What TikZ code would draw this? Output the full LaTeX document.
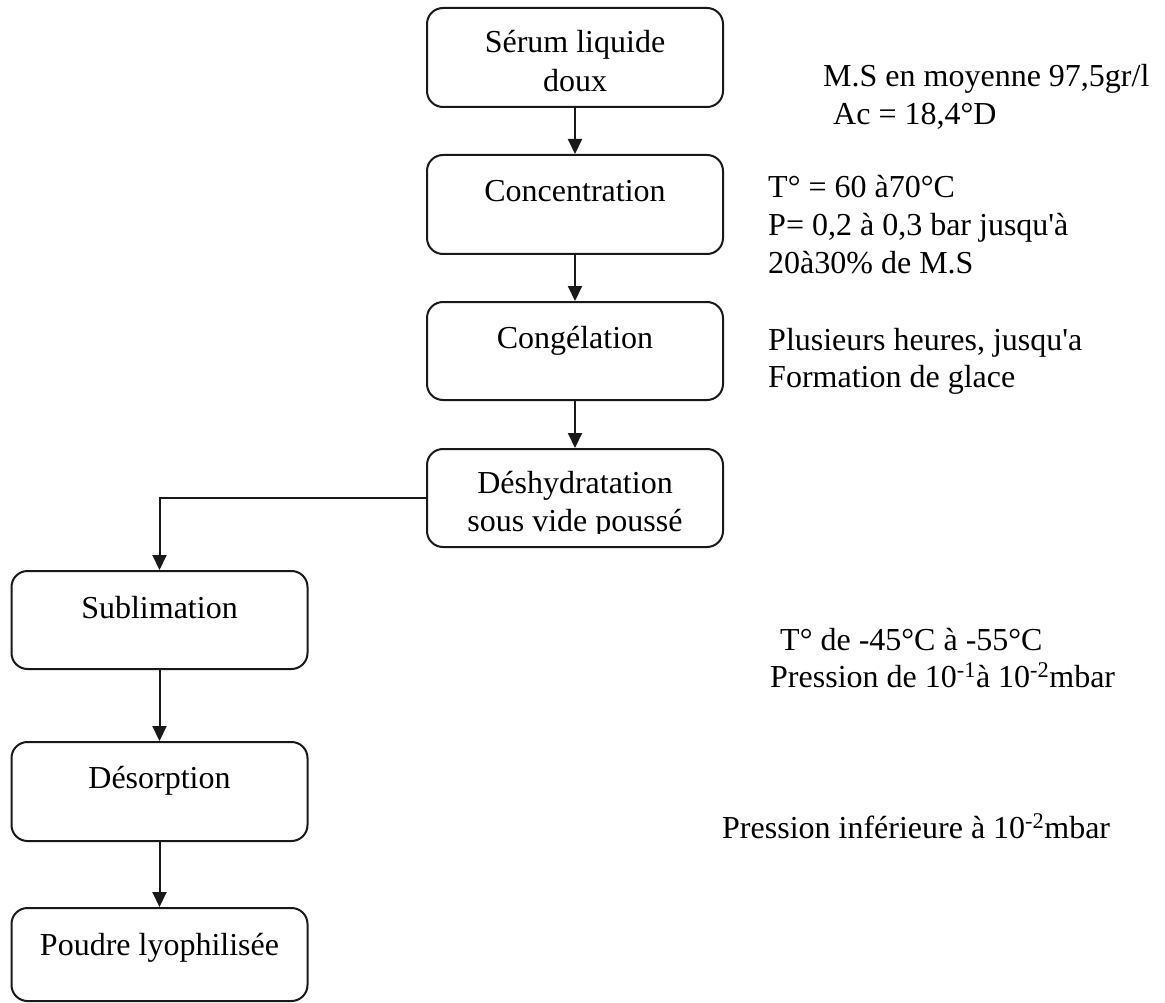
\documentclass[tikz,border=0pt]{standalone}
\usepackage{fontspec}
\setmainfont{Liberation Serif}[Ligatures=TeXOff]
\usetikzlibrary{arrows.meta}
\begin{document}
\begin{tikzpicture}[x=1pt,y=-1pt,
  box/.style={draw=black!90, line width=2pt, rounded corners=16pt, minimum width=296pt, inner sep=0pt},
  txt/.style={inner sep=0pt, font=\fontsize{32}{39}\selectfont, anchor=base},
  note/.style={inner sep=0pt, font=\fontsize{32}{39}\selectfont, anchor=base west},
  arr/.style={line width=2pt, draw=black!90, -{Triangle[width=14pt,length=15pt]}}]
\useasboundingbox (0,0) rectangle (1165,1003);

% boxes
\node[box, minimum height=99pt] (b1) at (575,57.5) {};
\node[box, minimum height=99pt] (b2) at (575,204.5) {};
\node[box, minimum height=98pt] (b3) at (575,351) {};
\node[box, minimum height=98pt] (b4) at (575,498) {};
\node[box, minimum height=98pt] (b5) at (159.5,620) {};
\node[box, minimum height=99pt] (b6) at (159.5,791.5) {};
\node[box, minimum height=93pt] (b7) at (159.5,954.5) {};

% box texts
\node[txt] (t1a) at (575,53) {Sérum liquide};
\node[txt] (t1b) at (575,92) {doux};
\node[txt] (t2) at (575,202) {Concentration};
\node[txt] (t3) at (575,348) {Congélation};
\node[txt] (t4a) at (575,493) {Déshydratation};
\begin{scope}
  \clip (430,500) rectangle (720,533);
  \node[txt] (t4b) at (575,531) {sous vide poussé};
\end{scope}
\node[txt] (t5) at (159.5,618) {Sublimation};
\node[txt] (t6) at (159.5,788) {Désorption};
\node[txt] (t7) at (159.5,955) {Poudre lyophilisée};

% connectors
\draw[arr] (b1) -- (b2);
\draw[arr] (b2) -- (b3);
\draw[arr] (b3) -- (b4);
\draw[arr] (b4.west) -| (b5.north);
\draw[arr] (b5) -- (b6);
\draw[arr] (b6) -- (b7);

% notes
\node[note] (n1a) at (823,87) {M.S en moyenne 97,5gr/l};
\node[note] (n1b) at (833,125) {Ac = 18,4°D};
\node[note] (n2a) at (768,198) {T° = 60 à70°C};
\node[note] (n2b) at (768,236) {P= 0,2 à 0,3 bar jusqu'à};
\node[note] (n2c) at (768,273) {20à30\% de M.S};
\node[note] (n3a) at (768,350) {Plusieurs heures, jusqu'a};
\node[note] (n3b) at (768,387) {Formation de glace};
\node[note] (n5a) at (780,650) {T° de -45°C à -55°C};
\node[note] (n5b) at (770,687) {Pression de 10\textsuperscript{-1}à 10\textsuperscript{-2}mbar};
\node[note] (n6) at (722,838) {Pression inférieure à 10\textsuperscript{-2}mbar};
\end{tikzpicture}
\end{document}
